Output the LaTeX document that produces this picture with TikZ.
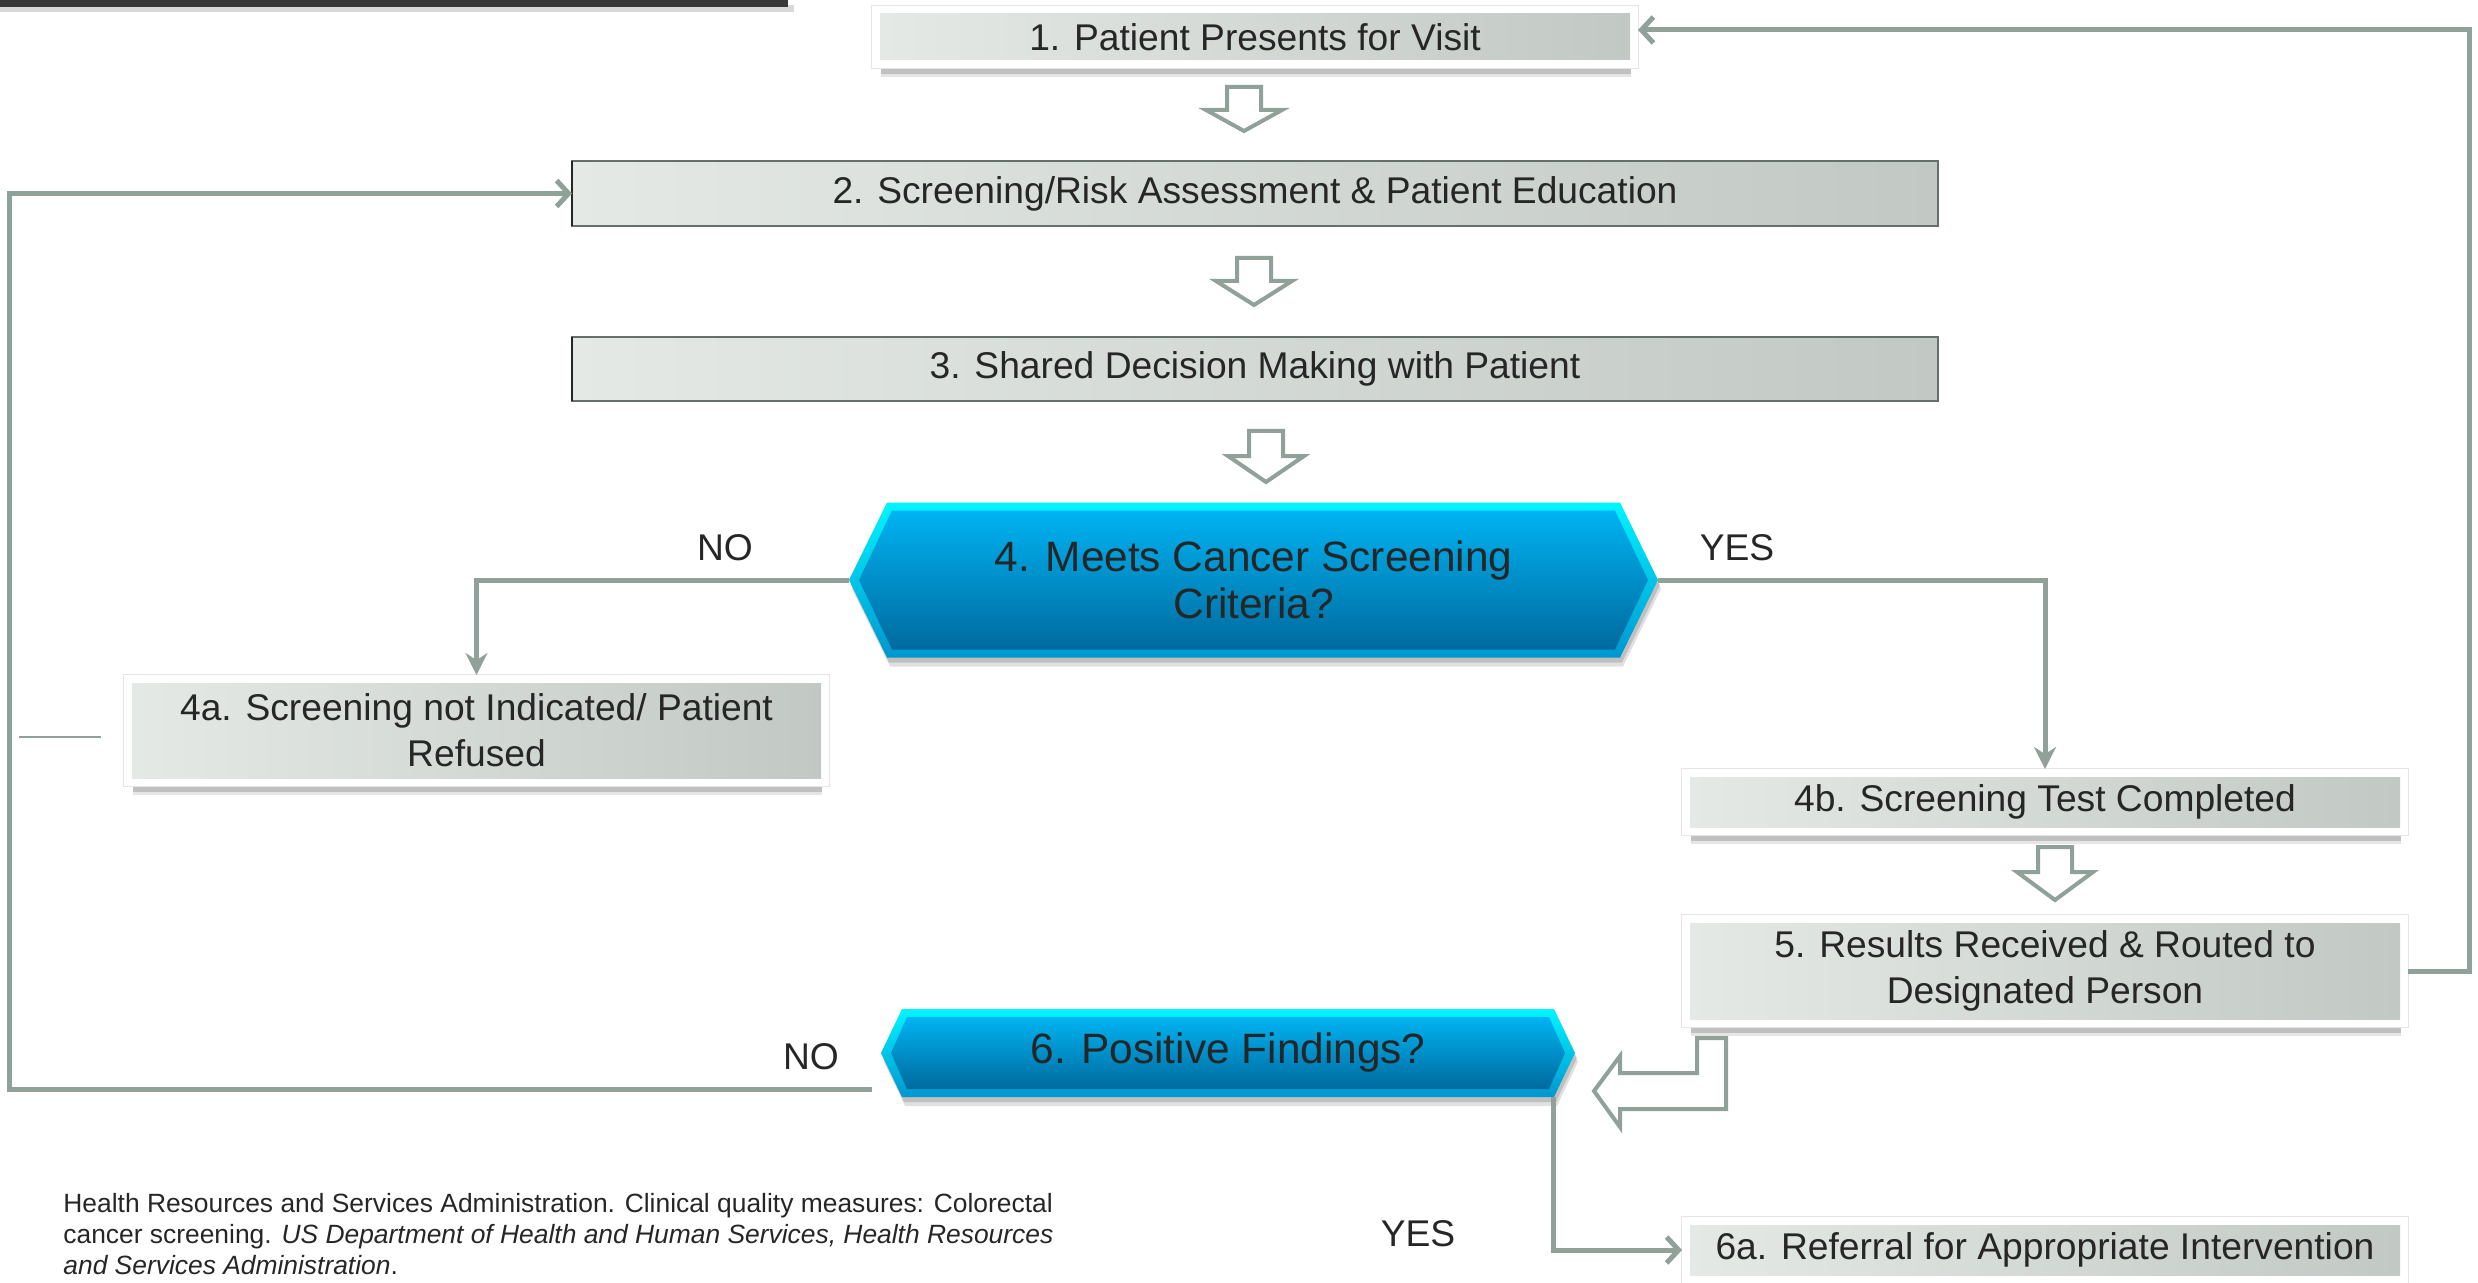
\documentclass[tikz,border=0pt]{standalone}
\usepackage{fontspec}
\setmainfont{Liberation Sans}
\usetikzlibrary{arrows.meta,shadows,calc}
\definecolor{conn}{HTML}{8FA198}
\definecolor{boxL}{HTML}{E4E9E6}
\definecolor{boxR}{HTML}{C2C8C4}
\definecolor{txt}{HTML}{262626}
\definecolor{rimT}{HTML}{00F5FF}
\definecolor{rimB}{HTML}{0096D0}
\definecolor{inT}{HTML}{00B3F2}
\definecolor{inB}{HTML}{006A9E}
\newcommand\boxfont{\fontsize{18.6pt}{23pt}\selectfont}
\newcommand\hexfont{\fontsize{21.2pt}{23.5pt}\selectfont}
\newcommand\citefont{\fontsize{13.2pt}{15.5pt}\selectfont}
\newcommand\hexshape[5]{%
 \pgfmathsetmacro\hL{#1-#3/2}%
 \pgfmathsetmacro\hR{#1+#3/2}%
 \pgfmathsetmacro\hT{-#2+#4/2}%
 \pgfmathsetmacro\hB{-#2-#4/2}%
 \pgfmathsetmacro\hM{-#2}%
 \fill[black,opacity=.12] (\hL+3,\hM-9) -- (\hL+#5+3,\hT-9) -- (\hR-#5+3,\hT-9) -- (\hR+3,\hM-9) -- (\hR-#5+3,\hB-9) -- (\hL+#5+3,\hB-9) -- cycle;
 \fill[black,opacity=.14] (\hL+2,\hM-5) -- (\hL+#5+2,\hT-5) -- (\hR-#5+2,\hT-5) -- (\hR+2,\hM-5) -- (\hR-#5+2,\hB-5) -- (\hL+#5+2,\hB-5) -- cycle;
 \shade[top color=rimT, bottom color=rimB] (\hL,\hM) -- (\hL+#5,\hT) -- (\hR-#5,\hT) -- (\hR,\hM) -- (\hR-#5,\hB) -- (\hL+#5,\hB) -- cycle;
 \shade[top color=inT, bottom color=inB] (\hL+10,\hM) -- (\hL+#5+5,\hT-8) -- (\hR-#5-5,\hT-8) -- (\hR-10,\hM) -- (\hR-#5-5,\hB+8) -- (\hL+#5+5,\hB+8) -- cycle;
}
\newcommand\dnblock[4]{%
 \path[blockarr] ({#1-17},{-#2}) -- ({#1+17},{-#2}) -- ({#1+17},{-#3}) -- ({#1+38},{-#3}) -- ({#1},{-#4}) -- ({#1-38},{-#3}) -- ({#1-17},{-#3}) -- cycle;
}
\begin{document}
\begin{tikzpicture}[x=0.5pt,y=0.5pt,
 base/.style={rectangle, inner sep=0pt, outer sep=0pt, text=txt, font=\boxfont, align=center, left color=boxL, right color=boxR},
 framed/.style={base,
   drop shadow={shadow xshift=0.5pt, shadow yshift=-8.5pt, opacity=.10, fill=black},
   drop shadow={shadow xshift=0.5pt, shadow yshift=-7pt, opacity=.16, fill=black},
   preaction={draw=black!10, line width=8.8pt},
   preaction={draw=white, line width=8pt}},
 plain/.style={base, draw=conn!70!black, line width=0.6pt},
 hexnode/.style={rectangle, inner sep=0pt, outer sep=0pt, text=txt, font=\hexfont, align=center},
 lab/.style={text=txt, font=\boxfont, inner sep=0pt},
 cite/.style={text=txt, font=\citefont, inner sep=0pt},
 conn/.style={draw=conn, line width=2.5pt},
 arrC/.style={-{Straight Barb[length=6pt,width=13pt]}},
 arrF/.style={-{Stealth[length=11pt,width=11pt]}},
 blockarr/.style={draw=conn, line width=2pt, fill=white, line join=miter}
]
\useasboundingbox (0,0) rectangle (2478,-1283);
% top-left bar
\fill[black,opacity=.15] (0,-5) rectangle (794,-12);
\fill[black!78] (0,0) rectangle (788,-7);
% boxes
\node[framed, minimum width=375pt, minimum height=23pt] (b1) at (1255,-37) {1. Patient Presents for Visit};
\node[plain, minimum width=683pt, minimum height=32.5pt] (b2) at (1255,-193.5) {2. Screening/Risk Assessment \& Patient Education};
\node[plain, minimum width=683pt, minimum height=32pt] (b3) at (1255,-369) {3. Shared Decision Making with Patient};
\draw[black!85, line width=0.8pt] (b2.south west) -- (b2.north west);
\draw[black!85, line width=0.8pt] (b3.south west) -- (b3.north west);
\node[framed, minimum width=344.5pt, minimum height=47.5pt] (b4a) at (476.5,-730.5) {4a. Screening not Indicated/ Patient\\Refused};
\node[framed, minimum width=355pt, minimum height=25pt] (b4b) at (2045,-802) {4b. Screening Test Completed};
\node[framed, minimum width=355pt, minimum height=48pt] (b5) at (2045,-971) {5. Results Received \& Routed to\\Designated Person};
\node[framed, minimum width=355pt, minimum height=25pt] (b6a) at (2045,-1250) {6a. Referral for Appropriate Intervention};
% hexagons
\hexshape{1253.5}{580}{809}{155}{38}
\node[hexnode, minimum width=404.5pt, minimum height=77.5pt] (d4) at (1253.5,-580) {4. Meets Cancer Screening\\Criteria?};
\hexshape{1228}{1053}{694}{88}{21}
\node[hexnode, minimum width=347pt, minimum height=44pt] (d6) at (1228,-1053) {6. Positive Findings?};
% block arrows
\dnblock{1244}{87}{110}{131}
\dnblock{1254}{258}{281}{305}
\dnblock{1266}{431}{456}{482}
\dnblock{2055}{847}{872}{900}
\path[blockarr] (1697,-1038) -- (1726,-1038) -- (1726,-1109) -- (1620,-1109) -- (1620,-1127) -- (1594,-1091) -- (1620,-1056) -- (1620,-1073) -- (1697,-1073) -- cycle;
% connectors
\draw[conn, arrF, shorten >=4pt] (d4.west) -| (b4a.north);
\draw[conn, arrF, shorten >=4pt] (d4.east) -| (b4b.north);
\draw[conn, arrC, shorten <=4pt, shorten >=4pt] (b5.east) -- ++(69,0) |- ([yshift=3.5pt]b1.east);
\coordinate (d6no) at (872,-1089);
\draw[conn, arrC] (d6no) -- ++(-863,0) |- (b2.west);
\draw[conn, arrC, shorten >=4pt] ($(d6.south east)+(-22,0)$) |- (b6a.west);
\draw[conn, line width=1pt] (19,-737) -- (101,-737);
% labels
\node[lab] (lno1) at (725,-548) {NO};
\node[lab] (lyes1) at (1737,-548) {YES};
\node[lab] (lno2) at (811,-1057) {NO};
\node[lab] (lyes2) at (1418,-1234) {YES};
% citation
\node[cite, anchor=base west] (c1) at (63,-1212) {Health Resources and Services Administration. Clinical quality measures: Colorectal};
\node[cite, anchor=base west] (c2) at (63,-1243) {cancer screening. \textit{US Department of Health and Human Services, Health Resources}};
\node[cite, anchor=base west] (c3) at (63,-1274) {\textit{and Services Administration}.};
\end{tikzpicture}
\end{document}
